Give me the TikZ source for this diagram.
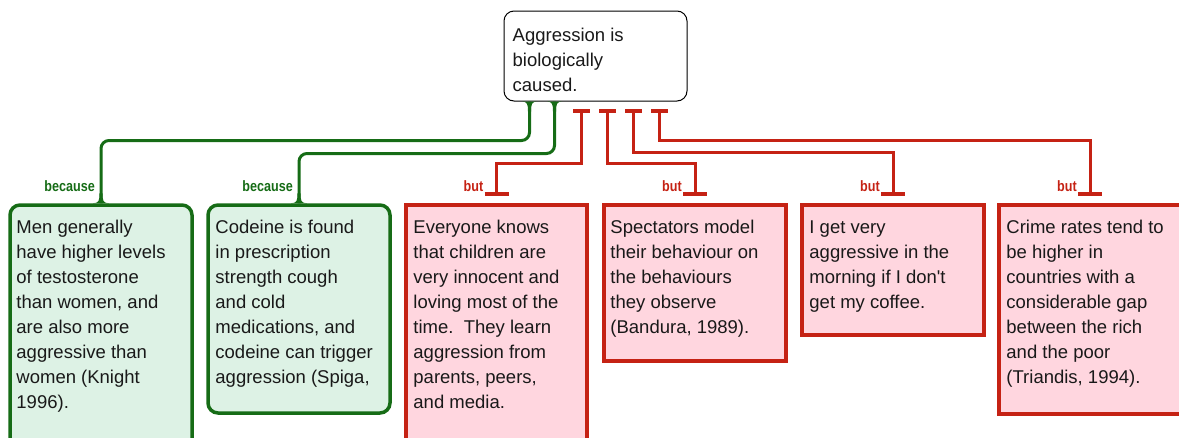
\documentclass[tikz,border=0pt]{standalone}
\usepackage{fontspec}
\setmainfont{Liberation Sans}
\newfontfamily\narrowfont[FakeStretch=0.84]{Liberation Sans}
\usetikzlibrary{fit}

\definecolor{gline}{RGB}{22,108,22}
\definecolor{gfill}{RGB}{221,242,229}
\definecolor{rline}{RGB}{197,34,20}
\definecolor{rfill}{RGB}{255,214,223}
\definecolor{txt}{RGB}{25,25,25}

\begin{document}
\begin{tikzpicture}[
		x=1pt, y=-1pt,
		claim/.style={draw=black, line width=1pt, rounded corners=10pt, fill=white, inner sep=0pt},
		reason/.style={draw=gline, fill=gfill, line width=3.5pt, rounded corners=10pt, inner sep=0pt},
		objection/.style={draw=rline, fill=rfill, line width=3.5pt, inner sep=0pt},
		body/.style={anchor=north west, inner sep=0pt, align=left, text=txt, font=\fontsize{18.5}{25}\selectfont},
		gconn/.style={draw=gline, line width=3pt, rounded corners=8pt},
		rconn/.style={draw=rline, line width=3pt},
		rbar/.style={draw=rline, line width=4pt},
		because/.style={anchor=base east, text=gline, inner sep=0pt, font=\narrowfont\bfseries\fontsize{15}{15}\selectfont},
		but/.style={anchor=base east, text=rline, inner sep=0pt, font=\narrowfont\bfseries\fontsize{15}{15}\selectfont},
		flare/.pic={\fill[gline] (-8,0) .. controls (-2,0) and (-1.5,3) .. (-1.5,10) -- (1.5,10) .. controls (1.5,3) and (2,0) .. (8,0) -- cycle;}
	]
	\useasboundingbox (0,0) rectangle (1179,437);
	
	% boxes
	\node[claim, fit={(504,11) (687,101)}] (top) {};
	\node[reason, fit={(10,205) (192,450)}] (men) {};
	\node[reason, fit={(208,205) (390,413)}] (cod) {};
	\node[objection, fit={(406,205) (587,450)}] (ev) {};
	\node[objection, fit={(604,205) (786,361)}] (sp) {};
	\node[objection, fit={(802,205) (984,335)}] (cf) {};
	\node[objection, fit={(999,205) (1181,414)}] (cr) {};
	
	% texts
	\node[body] (topT) at ([xshift=9, yshift=-13]top.north west) {\strut Aggression is\\biologically\\caused.};
	\node[body] (menT) at ([xshift=8, yshift=-13]men.north west) {\strut Men generally\\have higher levels\\of testosterone\\than women, and\\are also more\\aggressive than\\women (Knight\\1996).};
	\node[body] (codT) at ([xshift=9, yshift=-13]cod.north west) {\strut Codeine is found\\in prescription\\strength cough\\and cold\\medications, and\\codeine can trigger\\aggression (Spiga,};
	\node[body] (evT) at ([xshift=9, yshift=-13]ev.north west) {\strut Everyone knows\\that children are\\very innocent and\\loving most of the\\time.\ \ They learn\\aggression from\\parents, peers,\\and media.};
	\node[body] (spT) at ([xshift=8, yshift=-13]sp.north west) {\strut Spectators model\\their behaviour on\\the behaviours\\they observe\\(Bandura, 1989).};
	\node[body] (cfT) at ([xshift=9, yshift=-13]cf.north west) {\strut I get very\\aggressive in the\\morning if I don\textquotesingle t\\get my coffee.};
	\node[body] (crT) at ([xshift=9, yshift=-13]cr.north west) {\strut Crime rates tend to\\be higher in\\countries with a\\considerable gap\\between the rich\\and the poor\\(Triandis, 1994).};
	
	% because
	\draw[gconn] ([xshift=26]top.south west) -- ++(0,39) -| (men.north);
	\draw[gconn] ([xshift=51]top.south west) -- ++(0,52) -| (cod.north);
	\path ([xshift=26]top.south west) pic {flare};
	\path ([xshift=51]top.south west) pic {flare};
	\path (men.north) pic[yscale=-1] {flare};
	\path (cod.north) pic[yscale=-1] {flare};
	\node[because] (menB) at ([xshift=-6, yshift=12]men.north) {because};
	\node[because] (codB) at ([xshift=-6, yshift=12]cod.north) {because};
	
	% but
	\draw[rconn] ([xshift=78, yshift=-9]top.south west) -- ++(0,53) -| ([yshift=9]ev.north);
	\draw[rconn] ([xshift=104, yshift=-9]top.south west) -- ++(0,53) -| ([yshift=9]sp.north);
	\draw[rconn] ([xshift=130, yshift=-9]top.south west) -- ++(0,42) -| ([yshift=9]cf.north);
	\draw[rconn] ([xshift=156, yshift=-9]top.south west) -- ++(0,30) -| ([yshift=9]cr.north);
	\foreach \dx in {78,104,130,156}
		\draw[rbar] ([xshift=\dx-8.5, yshift=-9]top.south west) -- ++(17,0);
	\foreach \b in {ev,sp,cf,cr}{
		\draw[rbar] ([xshift=-12, yshift=9]\b.north) -- ++(24,0);
		\node[but] (\b B) at ([xshift=-13, yshift=12]\b.north) {but};
	}
\end{tikzpicture}
\end{document}
